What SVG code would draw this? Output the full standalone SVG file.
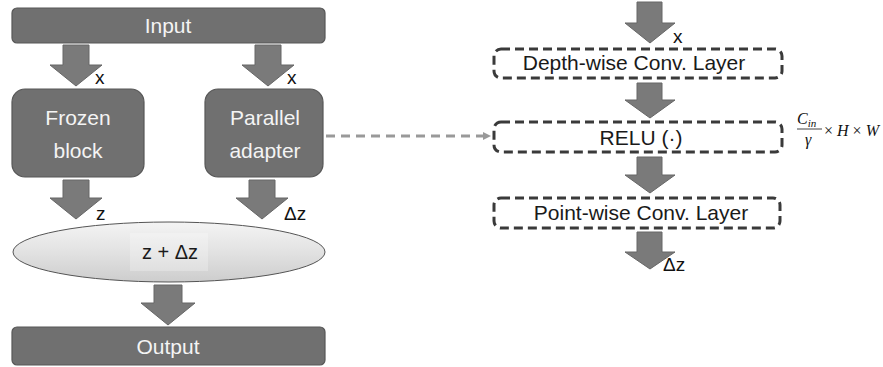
<svg xmlns="http://www.w3.org/2000/svg" width="883" height="367" viewBox="0 0 883 367">
<style>
.box{fill:#707070;stroke:#575757;stroke-width:1.2}
.wt{font-family:"Liberation Sans",Arial,sans-serif;font-size:21px;fill:#f4f4f4;text-anchor:middle}
.bt{font-family:"Liberation Sans",Arial,sans-serif;font-size:21px;fill:#1a1a1a;text-anchor:middle}
.lbl{font-family:"Liberation Sans",Arial,sans-serif;font-size:19px;fill:#111}
.arr{fill:#7a7a7a;stroke:#666;stroke-width:1}
.dbox{fill:none;stroke:#3a3a3a;stroke-width:3;stroke-dasharray:9 5}
.math{font-family:"Liberation Serif","Times New Roman",serif;font-size:16px;fill:#111}
</style>
<defs>
<linearGradient id="eg" x1="0" y1="0" x2="0" y2="1">
<stop offset="0" stop-color="#f4f4f4"/>
<stop offset="0.5" stop-color="#e2e2e2"/>
<stop offset="1" stop-color="#cdcdcd"/>
</linearGradient>
<marker id="ah" markerWidth="8" markerHeight="8" refX="7" refY="4" orient="auto" markerUnits="userSpaceOnUse">
<path d="M0,0 L8,4 L0,8 Z" fill="#999"/>
</marker>
</defs>

<g id="input"><rect class="box" x="12" y="8" width="313" height="35" rx="5"/><text class="wt" x="168" y="33">Input</text></g>
<g id="frozen"><rect class="box" x="12" y="89" width="132" height="88" rx="13"/><text class="wt" x="78" y="125">Frozen</text><text class="wt" x="78" y="158">block</text></g>
<g id="adapter"><rect class="box" x="205" y="89" width="118" height="88" rx="13"/><text class="wt" x="265" y="125">Parallel</text><text class="wt" x="265" y="158">adapter</text></g>
<g id="sum"><ellipse cx="169" cy="252" rx="156" ry="30" fill="url(#eg)" stroke="#555" stroke-width="1"/><rect x="130" y="233" width="78" height="38" fill="#ffffff" opacity="0.25"/><text class="bt" x="170" y="259" style="font-size:20px">z + Δz</text></g>
<g id="output"><rect class="box" x="12" y="327" width="313" height="38" rx="5"/><text class="wt" x="168" y="354">Output</text></g>

<g id="depthwise"><rect class="dbox" x="494" y="49" width="288" height="29" rx="7"/><text class="bt" x="634" y="70">Depth-wise Conv. Layer</text></g>
<g id="relu"><rect class="dbox" x="494" y="122" width="288" height="30" rx="7"/><text class="bt" x="641" y="145">RELU (·)</text></g>
<g id="pointwise"><rect class="dbox" x="494" y="198" width="286" height="30" rx="7"/><text class="bt" x="641" y="220">Point-wise Conv. Layer</text></g>

<g id="formula">
<text class="math" x="797" y="124" font-style="italic">C<tspan font-size="11" dy="3">in</tspan></text>
<line x1="797" y1="129" x2="822" y2="129" stroke="#111" stroke-width="0.8"/>
<text class="math" x="805" y="145" font-style="italic">γ</text>
<text class="math" x="824" y="136">× <tspan font-style="italic">H</tspan> × <tspan font-style="italic">W</tspan></text>
</g>

<g id="connectors">
<path class="arr" d="M63,45 H89 V65 H102 L76,86 L50,65 H63 Z"/>
<path class="arr" d="M255,45 H281 V65 H294 L268,86 L242,65 H255 Z"/>
<path class="arr" d="M63,180 H89 V198 H102 L76,219 L50,198 H63 Z"/>
<path class="arr" d="M249,180 H275 V198 H288 L262,219 L236,198 H249 Z"/>
<path class="arr" d="M154,285 H182 V303 H195 L168,325 L141,303 H154 Z"/>
<path class="arr" d="M637,2 H662 V23 H675 L650,43 L625,23 H637 Z"/>
<path class="arr" d="M637,83 H662 V100 H675 L650,118 L625,100 H637 Z"/>
<path class="arr" d="M637,157 H662 V175 H675 L650,193 L625,175 H637 Z"/>
<path class="arr" d="M637,232 H662 V252 H675 L650,269 L625,252 H637 Z"/>
<line x1="326" y1="136" x2="490" y2="136" stroke="#999" stroke-width="3" stroke-dasharray="9 6" marker-end="url(#ah)"/>
<text class="lbl" x="95" y="84">x</text>
<text class="lbl" x="287" y="84">x</text>
<text class="lbl" x="96" y="220">z</text>
<text class="lbl" x="284" y="220">Δz</text>
<text class="lbl" x="673" y="43">x</text>
<text class="lbl" x="663" y="271">Δz</text>
</g>
</svg>
